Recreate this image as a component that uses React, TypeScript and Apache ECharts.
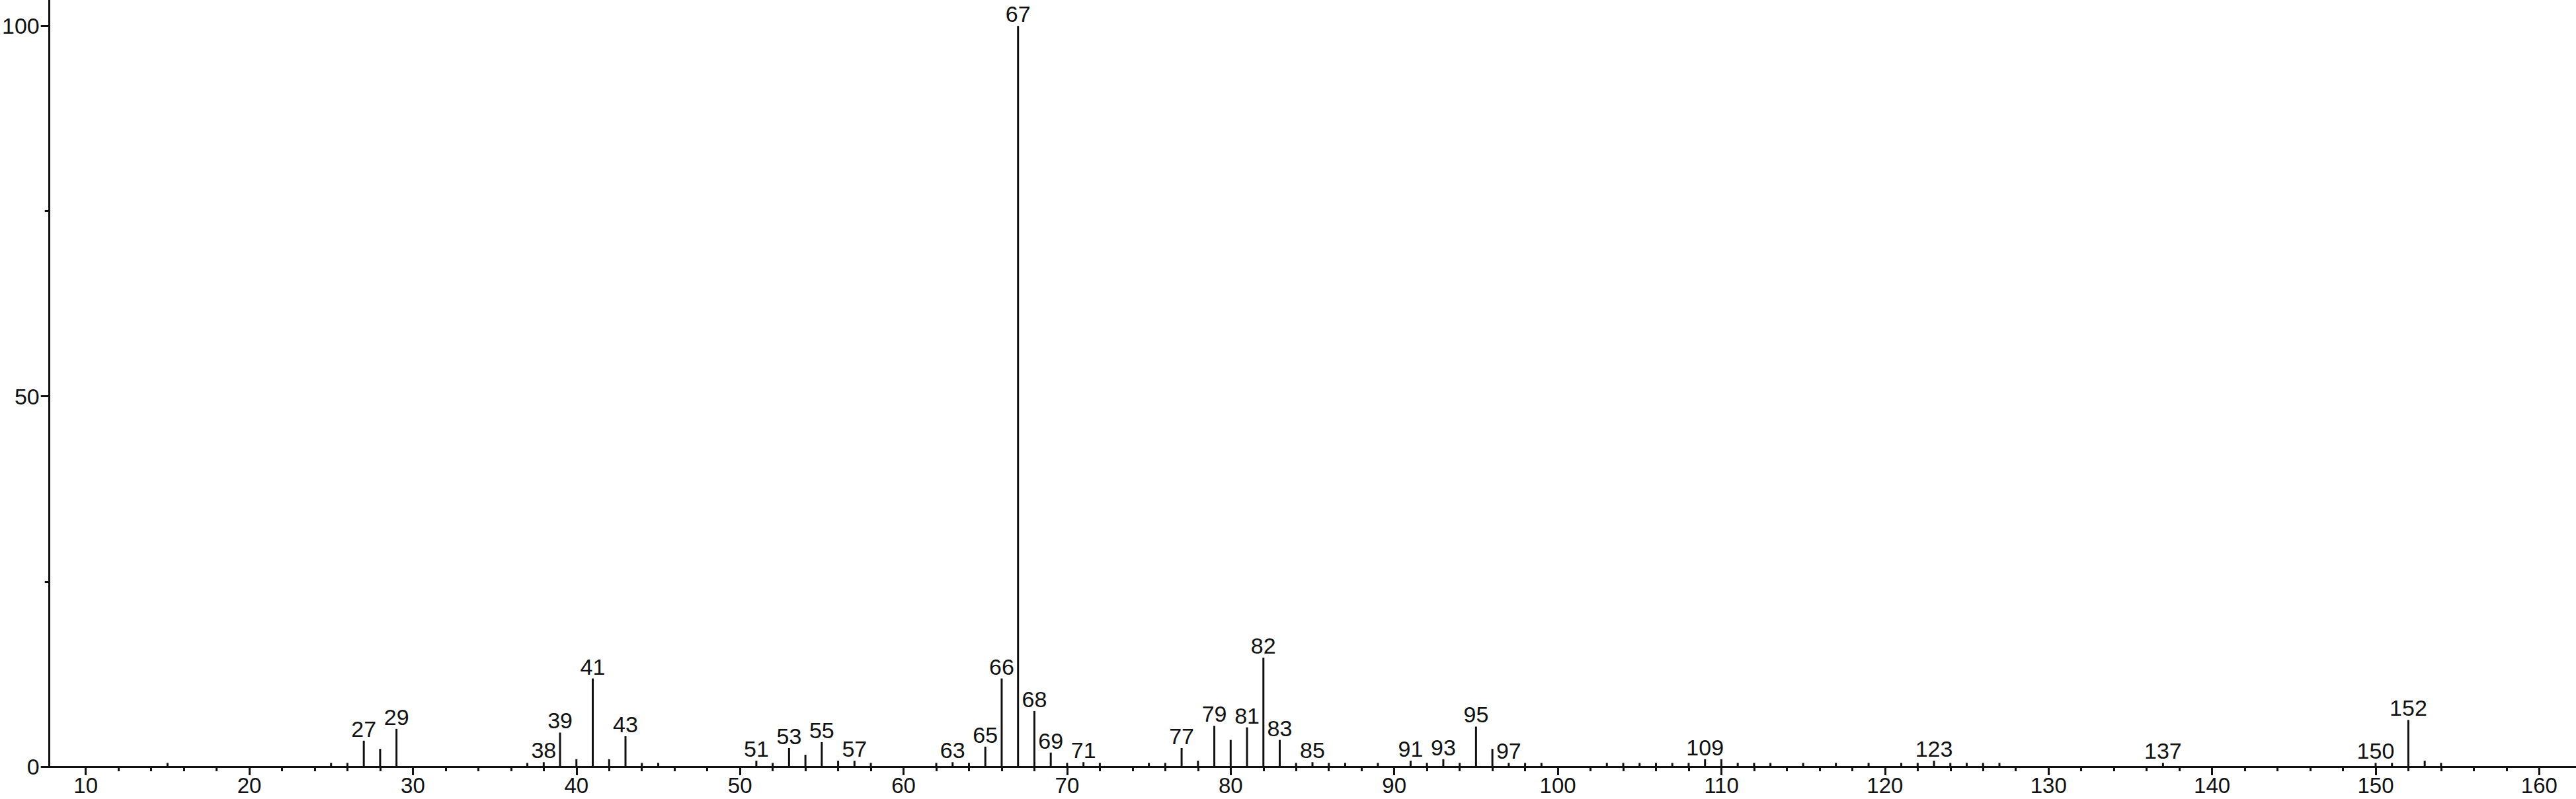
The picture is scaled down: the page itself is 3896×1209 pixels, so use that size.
import React, { useEffect, useRef } from "react";
import * as echarts from "echarts";

// m/z of each peak and its relative intensity (%)
const mzValues = [
  15, 25, 26, 27, 28, 29, 37, 38, 39, 40, 41, 42, 43, 44, 45,
  51, 52, 53, 54, 55, 56, 57, 58, 62, 63, 64, 65, 66, 67, 68, 69,
  70, 71, 72, 75, 76, 77, 78, 79, 80, 81, 82, 83, 84, 85, 86, 87, 89,
  91, 92, 93, 94, 95, 96, 97, 98, 99, 103, 104, 105, 106, 107, 108,
  109, 110, 111, 112, 113, 115, 117, 119, 121, 122, 123, 124, 125, 126,
  127, 137, 150, 151, 152, 153, 154,
];
const intensities = [
  0.5, 0.5, 0.5, 3.5, 2.4, 5.1, 0.5, 0.6, 4.6, 1.0, 11.9, 1.0, 4.1, 0.5, 0.5,
  0.8, 0.5, 2.5, 1.6, 3.3, 0.8, 0.8, 0.5, 0.5, 0.6, 0.5, 2.7, 11.9, 100, 7.5, 1.9,
  0.5, 0.6, 0.5, 0.5, 0.5, 2.5, 0.8, 5.5, 3.6, 5.3, 14.7, 3.6, 0.5, 0.6, 0.5, 0.5, 0.5,
  0.8, 0.5, 1.0, 0.5, 5.4, 2.4, 0.5, 0.5, 0.5, 0.5, 0.5, 0.5, 0.5, 0.5, 0.5,
  1.0, 1.0, 0.5, 0.5, 0.5, 0.5, 0.5, 0.5, 0.5, 0.5, 0.8, 0.5, 0.5, 0.5,
  0.5, 0.5, 0.5, 0.5, 6.3, 0.8, 0.5,
];
const labeledPeaks = [
  27, 29, 38, 39, 41, 43, 51, 53, 55, 57, 63, 65, 66, 67, 68, 69, 71, 77, 79,
  81, 82, 83, 85, 91, 93, 95, 97, 109, 123, 137, 150, 152,
];
const xMajorTicks = [10, 20, 30, 40, 50, 60, 70, 80, 90, 100, 110, 120, 130, 140, 150, 160];
const xMinorTicks = [
  12, 14, 16, 18, 22, 24, 26, 28, 32, 34, 36, 38, 42, 44, 46, 48, 52, 54, 56, 58,
  62, 64, 66, 68, 72, 74, 76, 78, 82, 84, 86, 88, 92, 94, 96, 98, 102, 104, 106, 108,
  112, 114, 116, 118, 122, 124, 126, 128, 132, 134, 136, 138, 142, 144, 146, 148,
  152, 154, 156, 158,
];
const yMajorTicks = [0, 50, 100];
const yMinorTicks = [25, 75];

const X_MIN = 7.78;
const X_MAX = 162.25;
const Y_MIN = 0;
const Y_MAX = 103.5;

const FONT = "Liberation Sans, Arial, Helvetica, sans-serif";
const INK = "#111111";

export default function App() {
  const ref = useRef<HTMLDivElement>(null);

  useEffect(() => {
    if (!ref.current) return;
    const chart = echarts.init(ref.current, null, { renderer: "svg" });

    const data = mzValues.map((m, i) => ({
      value: [m, intensities[i]],
      label: { show: labeledPeaks.includes(m) },
    }));

    const lineStyle = { color: INK, width: 3 };

    chart.setOption({
      animation: false,
      backgroundColor: "#ffffff",
      textStyle: { fontFamily: FONT },
      grid: { left: 68, right: 0, top: 0, bottom: 49, containLabel: false },
      xAxis: [
        {
          type: "value",
          position: "bottom",
          min: X_MIN,
          max: X_MAX,
          axisLine: { show: true, onZero: false, lineStyle },
          axisTick: { show: true, length: 13, lineStyle, customValues: xMajorTicks },
          axisLabel: {
            show: true,
            customValues: xMajorTicks,
            margin: 15,
            fontSize: 33,
            lineHeight: 27,
            color: INK,
            fontFamily: FONT,
          },
          splitLine: { show: false },
        },
        {
          type: "value",
          position: "bottom",
          min: X_MIN,
          max: X_MAX,
          axisLine: { show: false },
          axisTick: { show: true, length: 7, lineStyle, customValues: xMinorTicks },
          axisLabel: { show: false },
          splitLine: { show: false },
        },
      ],
      yAxis: [
        {
          type: "value",
          position: "left",
          min: Y_MIN,
          max: Y_MAX,
          axisLine: { show: true, onZero: false, lineStyle },
          axisTick: { show: true, length: 13, lineStyle, customValues: yMajorTicks },
          axisLabel: {
            show: true,
            customValues: yMajorTicks,
            margin: 15,
            fontSize: 34,
            color: INK,
            fontFamily: FONT,
          },
          splitLine: { show: false },
        },
        {
          type: "value",
          position: "left",
          min: Y_MIN,
          max: Y_MAX,
          axisLine: { show: false },
          axisTick: { show: true, length: 7, lineStyle, customValues: yMinorTicks },
          axisLabel: { show: false },
          splitLine: { show: false },
        },
      ],
      series: [
        {
          type: "bar",
          xAxisIndex: 0,
          yAxisIndex: 0,
          barWidth: 3,
          itemStyle: { color: INK },
          label: {
            show: false,
            position: "top",
            distance: 1,
            fontSize: 34,
            color: INK,
            fontFamily: FONT,
            formatter: (p: any) => String(p.value[0]),
          },
          data,
        },
      ],
    });

    return () => chart.dispose();
  }, []);

  return (
    <div
      ref={ref}
      style={{ position: "fixed", left: 0, top: 0, width: "3896px", height: "1209px", background: "#fff" }}
    />
  );
}
